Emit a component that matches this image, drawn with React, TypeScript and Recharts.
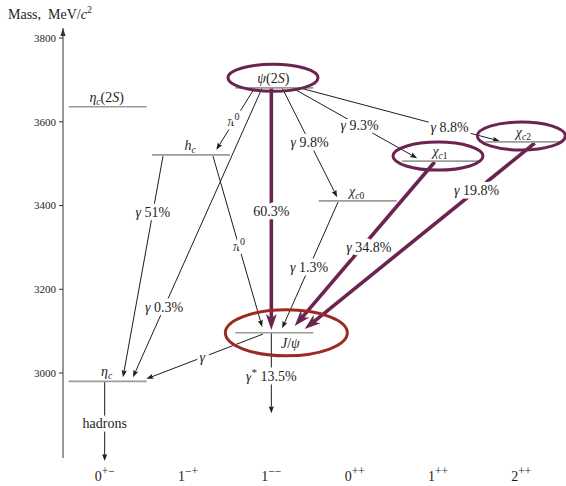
import React from 'react';
import { ComposedChart, XAxis, YAxis, Scatter, ReferenceLine, ReferenceDot } from 'recharts';

// Spin-parity columns J^PC
const COLUMN_POS = [0, 1, 2, 3, 4, 5];
const COLUMN_J = ['0', '1', '1', '0', '1', '2'];
const COLUMN_PC = ['+−', '−+', '−−', '++', '++', '++'];

const MASS_TICKS = [3000, 3200, 3400, 3600, 3800];
const MASS_DOMAIN: [number, number] = [2797, 3824];

// Charmonium states: column and mass (MeV/c^2)
const STATE_ID = ['etac2S', 'hc', 'psi2S', 'chic0', 'chic1', 'chic2', 'jpsi', 'etac'];
const STATE_COL = [0, 1, 2, 3, 4, 5, 2, 0];
const STATE_MASS = [3636, 3521, 3681, 3411, 3506, 3552, 3096, 2980];

// Transitions: emitted particle, branching fraction (%), start and end (column, mass)
const TRANSITION_PARTICLE = ['π0', 'γ', '', 'γ', 'γ', 'γ', 'γ', 'π0', 'γ', 'γ', 'γ', 'γ', 'γ*', 'hadrons'];
const TRANSITION_BR: (number | null)[] = [null, 0.3, 60.3, 9.8, 9.3, 8.8, 51, null, 1.3, 34.8, 19.8, null, 13.5, null];
const TRANSITION_FROM: [number, number][] = [
  [1.80, 3681], [1.89, 3681], [2.0, 3681], [2.13, 3681], [2.25, 3681], [2.34, 3681],
  [0.70, 3518], [1.30, 3518], [2.80, 3408], [3.96, 3504], [5.16, 3549],
  [1.90, 3093], [2.0, 3096], [0.0, 2980],
];
const TRANSITION_TO: [number, number][] = [
  [1.34, 3533], [0.34, 2990], [2.0, 3103], [2.79, 3420], [3.75, 3513], [4.74, 3554],
  [0.22, 2990], [1.89, 3110], [2.13, 3107], [2.28, 3112], [2.40, 3105],
  [0.50, 2986], [2.0, 2904], [0.0, 2790],
];
// Where along each arrow its label sits (0 = start, 1 = tip)
const TRANSITION_LABEL_AT = [0.55, 0.76, 0.51, 0.5, 0.54, 0.75, 0.253, 0.53, 0.516, 0.52, 0.253, 0.52, 0.54, 0.53];
// Dominant decay chains to J/psi
const DOMINANT = [2, 9, 10];

// Circled states: ellipse centres (column, mass)
const HIGHLIGHT_ID = ['psi2S', 'chic1', 'chic2', 'jpsi'];
const HIGHLIGHT_COL = [2.02, 4.0, 5.0, 2.18];
const HIGHLIGHT_MASS = [3705, 3518, 3566, 3096];

const FONT = '"Liberation Serif", "DejaVu Serif", serif';
const INK = '#1e1e1e';
const LEVEL_GRAY = '#9b9b9b';
const PURPLE = '#6b2350';
const RED = '#9c2a22';

const ELLIPSE_STYLE: Record<string, { rx: number; ry: number; color: string }> = {
  psi2S: { rx: 45, ry: 13.5, color: PURPLE },
  chic1: { rx: 45, ry: 14, color: PURPLE },
  chic2: { rx: 44, ry: 14, color: PURPLE },
  jpsi: { rx: 61, ry: 23, color: RED },
};

const levelPoints = STATE_ID.map((id, i) => ({ id, col: STATE_COL[i], mass: STATE_MASS[i] }));

const SUB = { fontSize: 9.5 };

function stateName(id: string) {
  const it = { fontStyle: 'italic' as const };
  switch (id) {
    case 'etac2S':
      return [<tspan key="a" {...it}>η</tspan>, <tspan key="b" {...it} {...SUB} dy={3}>c</tspan>, <tspan key="c" dy={-3}>(2</tspan>, <tspan key="d" {...it}>S</tspan>, <tspan key="e">)</tspan>];
    case 'hc':
      return [<tspan key="a" {...it}>h</tspan>, <tspan key="b" {...it} {...SUB} dy={3}>c</tspan>];
    case 'psi2S':
      return [<tspan key="a" {...it}>ψ</tspan>, <tspan key="c">(2</tspan>, <tspan key="d" {...it}>S</tspan>, <tspan key="e">)</tspan>];
    case 'chic0':
    case 'chic1':
    case 'chic2':
      return [<tspan key="a" {...it}>χ</tspan>, <tspan key="b" {...it} {...SUB} dy={3}>c</tspan>, <tspan key="c" {...SUB}>{id.slice(-1)}</tspan>];
    case 'jpsi':
      return [<tspan key="a" {...it}>J</tspan>, <tspan key="b">/</tspan>, <tspan key="c" {...it}>ψ</tspan>];
    case 'etac':
      return [<tspan key="a" {...it}>η</tspan>, <tspan key="b" {...it} {...SUB} dy={3}>c</tspan>];
    default:
      return id;
  }
}

function transitionText(particle: string, br: number | null) {
  const parts: React.ReactNode[] = [];
  if (particle === 'hadrons') {
    parts.push(<tspan key="p">hadrons</tspan>);
  } else if (particle === 'π0') {
    parts.push(<tspan key="p" fontStyle="italic">π</tspan>, <tspan key="s" fontSize={10} dy={-6}>0</tspan>);
    if (br !== null) parts.push(<tspan key="r" dy={6}>{` ${br}%`}</tspan>);
  } else if (particle === 'γ*') {
    parts.push(<tspan key="p" fontStyle="italic">γ</tspan>, <tspan key="s" fontSize={11} dy={-5}>*</tspan>);
    if (br !== null) parts.push(<tspan key="r" dy={5}>{` ${br}%`}</tspan>);
  } else if (particle === 'γ') {
    parts.push(<tspan key="p" fontStyle="italic">γ</tspan>);
    if (br !== null) parts.push(<tspan key="r">{` ${br}%`}</tspan>);
  } else if (br !== null) {
    parts.push(<tspan key="r">{`${br}%`}</tspan>);
  }
  return parts;
}

const HALO = {
  stroke: '#ffffff',
  strokeWidth: 7,
  strokeLinejoin: 'round' as const,
  paintOrder: 'stroke' as const,
};

function arrowShape(i: number) {
  const dominant = DOMINANT.includes(i);
  const t = TRANSITION_LABEL_AT[i];
  const shift = i === 9 ? 7 : 0;
  return (p: any) => {
    const { x1, y1, x2, y2 } = p;
    if ([x1, y1, x2, y2].some((v) => typeof v !== 'number' || isNaN(v))) return <g />;
    const dx = x2 - x1;
    const dy = y2 - y1;
    const len = Math.hypot(dx, dy) || 1;
    const ux = dx / len;
    const uy = dy / len;
    const head = dominant ? 16 : 7;
    const half = dominant ? 5.5 : 2.6;
    const color = dominant ? PURPLE : INK;
    const bx = x2 - ux * head;
    const by = y2 - uy * head;
    const nx = x2 - ux * head * (dominant ? 0.72 : 0.85);
    const ny = y2 - uy * head * (dominant ? 0.72 : 0.85);
    const lx = x1 + dx * t + shift;
    const ly = y1 + dy * t;
    const text = transitionText(TRANSITION_PARTICLE[i], TRANSITION_BR[i]);
    return (
      <g>
        <line x1={x1} y1={y1} x2={nx} y2={ny} stroke={color} strokeWidth={dominant ? 3.6 : 1} />
        <polygon
          points={`${x2},${y2} ${bx - uy * half},${by + ux * half} ${nx},${ny} ${bx + uy * half},${by - ux * half}`}
          fill={color}
        />
        <text x={lx} y={ly + 4.5} textAnchor="middle" fontFamily={FONT} fontSize={14} fill={INK} {...HALO}>
          {text}
        </text>
      </g>
    );
  };
}

function LevelShape(props: any) {
  const { cx, cy, payload } = props;
  if (typeof cx !== 'number' || typeof cy !== 'number') return <g />;
  const below = payload.id === 'jpsi';
  return (
    <g>
      <line x1={cx - 36} y1={cy} x2={cx + 42} y2={cy} stroke={LEVEL_GRAY} strokeWidth={1.6} />
      <text
        x={cx + (below ? 19 : 2)}
        y={below ? cy + 15 : cy - 5}
        textAnchor="middle"
        fontFamily={FONT}
        fontSize={14}
        fill={INK}
      >
        {stateName(payload.id)}
      </text>
    </g>
  );
}

function ellipseShape(id: string) {
  const s = ELLIPSE_STYLE[id];
  return (p: any) => (
    <ellipse cx={p.cx} cy={p.cy} rx={s.rx} ry={s.ry} fill="none" stroke={s.color} strokeWidth={3} />
  );
}

function AxisHead(p: any) {
  const { cx, cy } = p;
  return (
    <g>
      <polygon points={`${cx},${cy} ${cx - 2.6},${cy + 8} ${cx + 2.6},${cy + 8}`} fill="#333" />
      <text x={cx - 55} y={cy - 9} fontFamily={FONT} fontSize={14} fill={INK} xmlSpace="preserve">
        {'Mass,  MeV/'}
        <tspan fontStyle="italic">c</tspan>
        <tspan fontSize={10} dy={-6}>2</tspan>
      </text>
    </g>
  );
}

function ColumnTick(props: any) {
  const { x, y, payload } = props;
  const i = COLUMN_POS.indexOf(payload.value);
  return (
    <text x={x} y={y + 15} textAnchor="middle" fontFamily={FONT} fontSize={14} fill={INK}>
      {COLUMN_J[i]}
      <tspan fontSize={11.5} dy={-6}>{COLUMN_PC[i]}</tspan>
    </text>
  );
}

export default function App() {
  return (
    <div style={{ position: 'absolute', left: 0, top: 0, background: '#fff' }}>
      <ComposedChart width={566} height={486} margin={{ top: 28, right: 3, bottom: 0, left: 0 }}>
        <XAxis
          type="number"
          dataKey="col"
          domain={[-0.5, 5.5]}
          ticks={COLUMN_POS}
          allowDataOverflow
          axisLine={false}
          tickLine={false}
          height={28}
          tick={<ColumnTick />}
          interval={0}
        />
        <YAxis
          type="number"
          dataKey="mass"
          domain={MASS_DOMAIN}
          ticks={MASS_TICKS}
          allowDataOverflow
          width={63}
          tickSize={4}
          tickMargin={3}
          interval={0}
          axisLine={{ stroke: '#333', strokeWidth: 1 }}
          tickLine={{ stroke: '#333' }}
          tick={{ fontSize: 11, fill: INK, fontFamily: FONT }}
        />
        <Scatter data={levelPoints} dataKey="mass" shape={LevelShape} isAnimationActive={false} />
        {HIGHLIGHT_ID.map((id, i) => (
          <ReferenceDot
            key={`e-${id}`}
            x={HIGHLIGHT_COL[i]}
            y={HIGHLIGHT_MASS[i]}
            r={1}
            ifOverflow="visible"
            shape={ellipseShape(id)}
          />
        ))}
        {TRANSITION_FROM.map((from, i) => (
          <ReferenceLine
            key={`t-${i}`}
            segment={[
              { x: from[0], y: from[1] },
              { x: TRANSITION_TO[i][0], y: TRANSITION_TO[i][1] },
            ]}
            ifOverflow="visible"
            stroke={INK}
            shape={arrowShape(i)}
          />
        ))}
        <ReferenceDot x={-0.5} y={MASS_DOMAIN[1]} r={1} ifOverflow="visible" shape={AxisHead} />
      </ComposedChart>
    </div>
  );
}
